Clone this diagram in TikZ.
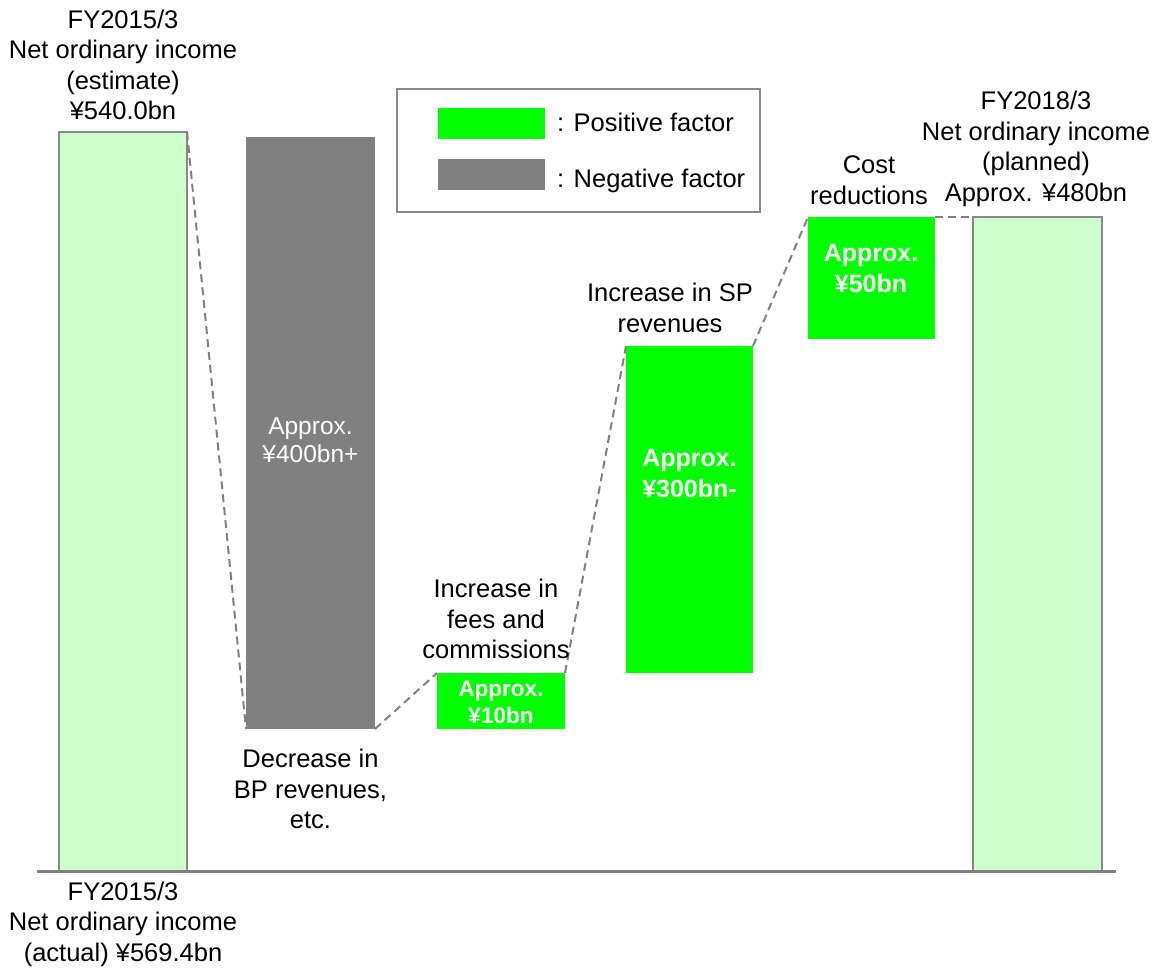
\documentclass[tikz,border=0pt]{standalone}
\usepackage{fontspec}
\setmainfont{Liberation Sans}
\definecolor{posgreen}{HTML}{00FF00}
\definecolor{palegreen}{HTML}{CCFFCC}
\definecolor{neggray}{HTML}{808080}
\definecolor{edgegray}{HTML}{898989}
\tikzset{
  bar/.style={rectangle, anchor=north west, inner sep=0pt, outer sep=0pt},
  totalbar/.style={bar, fill=palegreen, draw=edgegray, line width=2pt},
  posbar/.style={bar, fill=posgreen},
  negbar/.style={bar, fill=neggray},
  lbl/.style={align=center, inner sep=0pt, font=\fontsize{25.5}{30.5}\selectfont},
  inlbl/.style={align=center, inner sep=0pt, text=white, font=\fontsize{24.5}{28}\selectfont},
  boldlbl/.style={align=center, inner sep=0pt, text=white, font=\bfseries\fontsize{25}{31}\selectfont},
  link/.style={draw=neggray, line width=2pt, dash pattern=on 8pt off 5pt},
}
\begin{document}
\begin{tikzpicture}[x=1pt, y=-1pt]
\useasboundingbox (0,0) rectangle (1157,967);

% bars of the bridge
\node[totalbar, minimum width=128pt, minimum height=739pt] (est) at (59,132) {};
\node[negbar,   minimum width=129pt, minimum height=592pt] (neg) at (246,137) {};
\node[posbar,   minimum width=128pt, minimum height=56pt]  (fees) at (437,673) {};
\node[posbar,   minimum width=127pt, minimum height=327pt] (sp) at (626,346) {};
\node[posbar,   minimum width=127pt, minimum height=122pt] (cost) at (808,217) {};
\node[totalbar, minimum width=129pt, minimum height=654pt] (plan) at (973,217) {};

% dashed links between consecutive bars
\draw[link] (est.north east) -- (neg.south west);
\draw[link] (neg.south east) -- (fees.north west);
\draw[link] (fees.north east) -- (sp.north west);
\draw[link] (sp.north east) -- (cost.north west);
\draw[link] (cost.north east) -- (plan.north west);

% axis line
\coordinate (axL) at (37,871);
\coordinate (axR) at (1116,871);
\draw[draw=neggray, line width=3pt] (axL) -- (axR);

% values inside bars
\node[inlbl] (negval) at (310.5,440) {Approx.\\¥400bn+};
\node[boldlbl, font=\bfseries\fontsize{22.5}{27}\selectfont] (feesval) at (501,702) {Approx.\\¥10bn};
\node[boldlbl] (spval) at (689.5,474) {Approx.\\¥300bn-};
\node[boldlbl] (costval) at (871,269) {Approx.\\¥50bn};

% captions
\node[lbl] (estlbl) at (123,65) {FY2015/3\\Net ordinary income\\(estimate)\\¥540.0bn};
\node[lbl] (actlbl) at (123,924) {FY2015/3\\Net ordinary income\\(actual) ¥569.4bn};
\node[lbl] (neglbl) at (310.5,789) {Decrease in\\BP revenues,\\etc.};
\node[lbl] (feeslbl) at (496,619) {Increase in\\fees and\\commissions};
\node[lbl] (splbl) at (670,308) {Increase in SP\\revenues};
\node[lbl] (costlbl) at (869,180) {Cost\\reductions};
\node[lbl] (planlbl) at (1036,149) {FY2018/3\\Net ordinary income\\(planned)\\Approx. ¥480bn};

% legend
\node[bar, draw=edgegray, line width=2pt, minimum width=363pt, minimum height=123pt] (legend) at (397,89) {};
\node[bar, fill=posgreen, minimum width=107pt, minimum height=31pt] (legpos) at (438,108) {};
\node[bar, fill=neggray, minimum width=107pt, minimum height=31pt] (legneg) at (438,159) {};
\node[lbl, anchor=base west] (legpostxt) at (557,131) {: Positive factor};
\node[lbl, anchor=base west] (legnegtxt) at (557,187) {: Negative factor};
\end{tikzpicture}
\end{document}
